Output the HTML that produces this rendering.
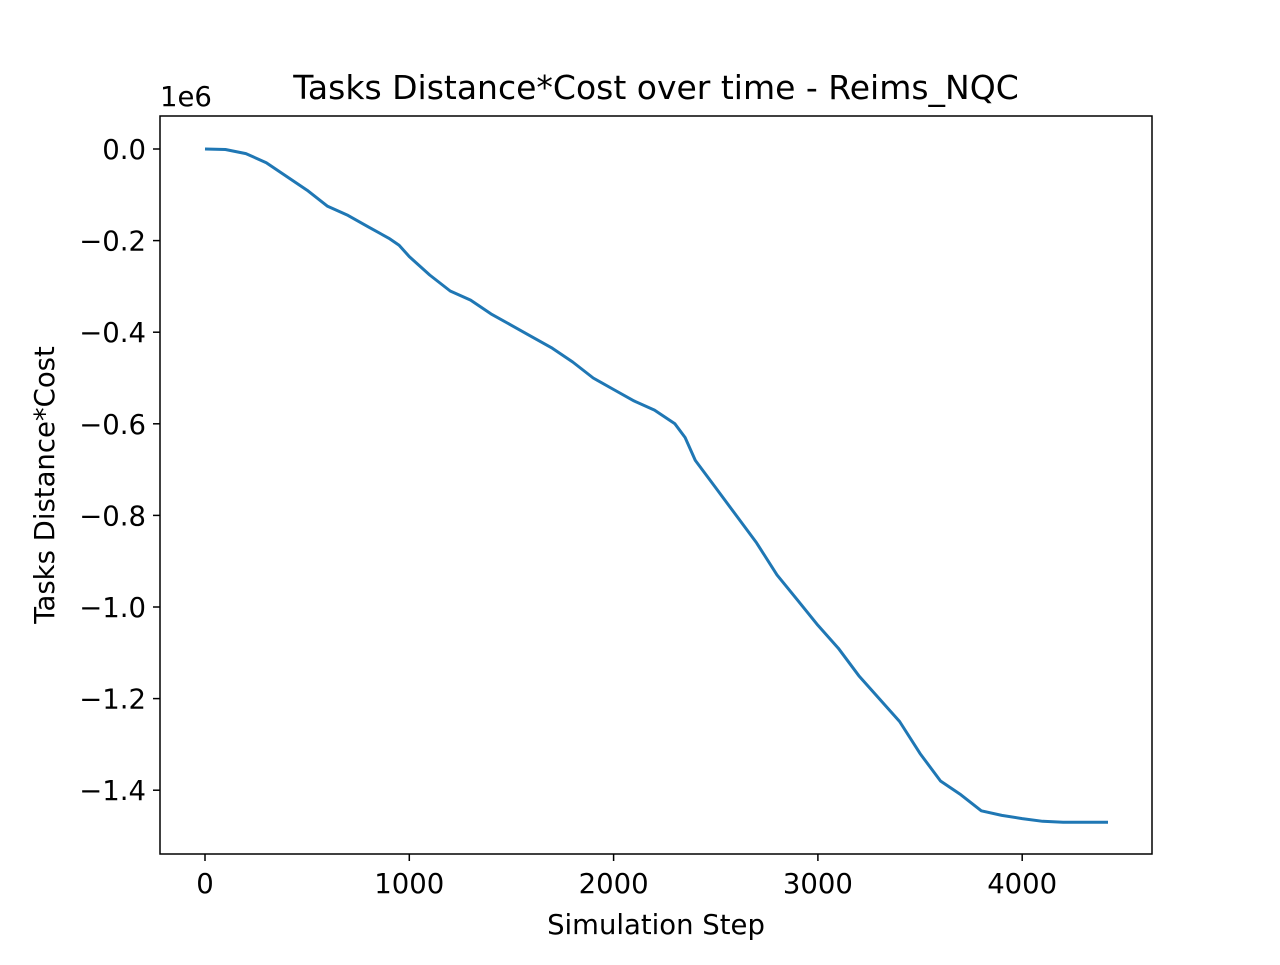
<!DOCTYPE html>
<html><head><meta charset="utf-8"><style>
body{margin:0;background:#fff}
svg text{font-family:"DejaVu Sans","Liberation Sans",sans-serif;fill:#000}
</style></head><body>
<svg id="chart" width="1280" height="960" xmlns="http://www.w3.org/2000/svg">
<rect width="1280" height="960" fill="#fff"/>
<g id="ticks"></g>
<path id="line" fill="none" stroke="#1f77b4" stroke-width="3" stroke-linejoin="round"/>
<rect x="160" y="116" width="992" height="738" fill="none" stroke="#000" stroke-width="1.5"/>
<text x="656" y="99" font-size="33" text-anchor="middle">Tasks Distance*Cost over time - Reims_NQC</text>
<text x="656" y="934" font-size="27.5" text-anchor="middle">Simulation Step</text>
<text transform="translate(54,485) rotate(-90)" font-size="27.5" text-anchor="middle">Tasks Distance*Cost</text>
<text x="160" y="106" font-size="27.5">1e6</text>
</svg>
<script>
const xs=[0,100,200,300,400,500,600,700,800,900,950,1000,1100,1200,1300,1400,1500,1600,1700,1800,1900,2000,2100,2200,2300,2350,2400,2500,2600,2700,2800,2900,3000,3100,3200,3300,3400,3500,3600,3700,3800,3900,4000,4100,4200,4420];
const ys=[0,-0.001,-0.01,-0.03,-0.06,-0.09,-0.125,-0.145,-0.17,-0.195,-0.21,-0.235,-0.275,-0.31,-0.33,-0.36,-0.385,-0.41,-0.435,-0.465,-0.5,-0.525,-0.55,-0.57,-0.6,-0.63,-0.68,-0.74,-0.8,-0.86,-0.93,-0.985,-1.04,-1.09,-1.15,-1.2,-1.25,-1.32,-1.38,-1.41,-1.445,-1.455,-1.462,-1.468,-1.47,-1.47];
const xTicks=[0,1000,2000,3000,4000];
const yTicks=[0,-0.2,-0.4,-0.6,-0.8,-1.0,-1.2,-1.4];
const yLabels=["0.0","\u22120.2","\u22120.4","\u22120.6","\u22120.8","\u22121.0","\u22121.2","\u22121.4"];
const X=v=>205+v*0.2043;
const Y=v=>149-v*458;
const NS="http://www.w3.org/2000/svg";
const g=document.getElementById('ticks');
function mk(t,a){const e=document.createElementNS(NS,t);for(const k in a)e.setAttribute(k,a[k]);g.appendChild(e);return e;}
xTicks.forEach(v=>{
 const l=mk('line',{x1:X(v),x2:X(v),y1:854,y2:861,stroke:'#000','stroke-width':1.5});
 
 
 const t=mk('text',{x:X(v),y:893,'font-size':27.5,'text-anchor':'middle'});t.textContent=v;
 
 
});
yTicks.forEach((v,i)=>{
 const l=mk('line',{x1:153,x2:160,y1:Y(v),y2:Y(v),stroke:'#000','stroke-width':1.5});
 
 
 const t=mk('text',{x:146,y:Y(v)+10,'font-size':27.5,'text-anchor':'end'});t.textContent=yLabels[i];
 
 
});
document.getElementById('line').setAttribute('d',xs.map((x,i)=>(i?'L':'M')+X(x).toFixed(1)+','+Y(ys[i]).toFixed(1)).join(''));
</script>
</body></html>
